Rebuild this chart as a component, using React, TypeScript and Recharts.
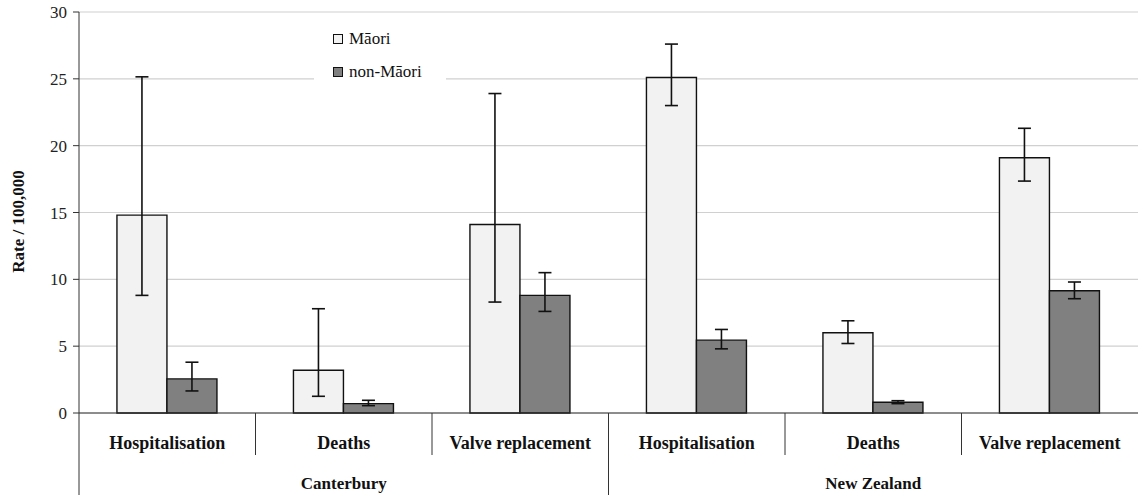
import { Bar, BarChart, CartesianGrid, ErrorBar, Legend, XAxis, YAxis } from "recharts";

const categories = ["Hospitalisation", "Deaths", "Valve replacement", "Hospitalisation", "Deaths", "Valve replacement"];
const regions = ["Canterbury", "Canterbury", "Canterbury", "New Zealand", "New Zealand", "New Zealand"];

const maoriRate = [14.8, 3.2, 14.1, 25.1, 6.0, 19.1];
const maoriLow = [8.8, 1.25, 8.3, 23.0, 5.2, 17.35];
const maoriHigh = [25.15, 7.8, 23.9, 27.6, 6.9, 21.3];

const nonMaoriRate = [2.55, 0.7, 8.8, 5.45, 0.8, 9.15];
const nonMaoriLow = [1.65, 0.55, 7.6, 4.8, 0.7, 8.55];
const nonMaoriHigh = [3.8, 0.95, 10.5, 6.25, 0.92, 9.8];

const yTicks = [0, 5, 10, 15, 20, 25, 30];

const CHART_W = 1138;
const CHART_H = 500;
const Y_AXIS_W = 79;
const FONT = "'Liberation Serif', Tinos, 'Times New Roman', 'DejaVu Serif', serif";

const data = categories.map((cat, i) => ({
  key: `${regions[i]}-${cat}`,
  category: cat,
  region: regions[i],
  maori: maoriRate[i],
  maoriErr: [maoriRate[i] - maoriLow[i], maoriHigh[i] - maoriRate[i]],
  nonMaori: nonMaoriRate[i],
  nonMaoriErr: [nonMaoriRate[i] - nonMaoriLow[i], nonMaoriHigh[i] - nonMaoriRate[i]],
}));

const band = (CHART_W - Y_AXIS_W) / categories.length;

function CategoryTick(props: any) {
  const { x, y, payload, index } = props;
  const d = data[index];
  const isGroupEnd = index === data.length - 1 || data[index + 1]?.region !== d.region;
  const isGroupStart = index === 0 || data[index - 1].region !== d.region;
  const groupMid = !isGroupStart && !isGroupEnd;
  const right = x + band / 2;
  const left = x - band / 2;
  return (
    <g>
      <text x={x} y={y + 36} textAnchor="middle" style={{ fontFamily: FONT }} fontWeight="bold" fontSize={18} fill="#111">
        {d.category}
      </text>
      {index === 0 && <line x1={left} y1={y} x2={left} y2={y + 82} stroke="#333" strokeWidth={1} />}
      {!isGroupEnd && <line x1={right} y1={y} x2={right} y2={y + 42} stroke="#333" strokeWidth={1} />}
      {isGroupEnd && index !== data.length - 1 && (
        <line x1={right} y1={y} x2={right} y2={y + 82} stroke="#333" strokeWidth={1} />
      )}
      {groupMid && (
        <text x={x} y={y + 76} textAnchor="middle" style={{ fontFamily: FONT }} fontWeight="bold" fontSize={17} fill="#111">
          {d.region}
        </text>
      )}
      <title>{payload.value}</title>
    </g>
  );
}

function LegendBox(props: any) {
  const items = props.payload || [];
  return (
    <div style={{ background: "#fff", width: 132, height: 66, fontFamily: FONT, fontSize: 17, color: "#111" }}>
      {items.map((it: any, i: number) => (
        <div key={i} style={{ display: "flex", alignItems: "center", height: 33, paddingLeft: 19 }}>
          <span
            style={{
              display: "inline-block",
              width: 8,
              height: 8,
              border: "1.5px solid #111",
              background: it.color,
              marginRight: 6,
            }}
          />
          <span>{it.value}</span>
        </div>
      ))}
    </div>
  );
}

export default function App() {
  return (
    <div style={{ position: "absolute", left: 0, top: 0, background: "#fff", fontFamily: FONT }}>
      <BarChart
        width={CHART_W}
        height={CHART_H}
        data={data}
        margin={{ top: 12, right: 0, bottom: 0, left: 0 }}
        barCategoryGap="21.5%"
        barGap={0}
      >
        <CartesianGrid vertical={false} stroke="#d0d0d0" strokeWidth={1.2} />
        <XAxis
          dataKey="key"
          height={87}
          interval={0}
          tickSize={0}
          tickMargin={0}
          tickLine={false}
          stroke="#333"
          tick={<CategoryTick />}
        />
        <YAxis
          width={Y_AXIS_W}
          domain={[0, 30]}
          ticks={yTicks}
          interval={0}
          tickSize={6}
          tickMargin={6}
          stroke="#333"
          tick={{ fontSize: 17, fill: "#222", style: { fontFamily: FONT } }}
          label={{
            content: (p: any) => {
              const vb = p.viewBox || { x: 0, y: 12, width: 79, height: 401 };
              const cx = vb.x + 18;
              const cy = vb.y + vb.height / 2 + 9;
              return (
                <text
                  x={cx}
                  y={cy}
                  transform={`rotate(-90 ${cx} ${cy})`}
                  textAnchor="middle"
                  dominantBaseline="central"
                  style={{ fontFamily: FONT }}
                  fontWeight="bold"
                  fontSize={17}
                  fill="#111"
                >
                  Rate / 100,000
                </text>
              );
            },
          }}
        />
        <Legend
          layout="vertical"
          align="center"
          verticalAlign="middle"
          wrapperStyle={{ left: 314, top: 22, width: 132 }}
          content={<LegendBox />}
        />
        <Bar dataKey="maori" name="Māori" fill="#f2f2f2" stroke="#111" strokeWidth={1.4} isAnimationActive={false}>
          <ErrorBar dataKey="maoriErr" direction="y" width={6.5} stroke="#111" strokeWidth={1.6} isAnimationActive={false} />
        </Bar>
        <Bar dataKey="nonMaori" name="non-Māori" fill="#808080" stroke="#111" strokeWidth={1.4} isAnimationActive={false}>
          <ErrorBar dataKey="nonMaoriErr" direction="y" width={6.5} stroke="#111" strokeWidth={1.6} isAnimationActive={false} />
        </Bar>
      </BarChart>
    </div>
  );
}
